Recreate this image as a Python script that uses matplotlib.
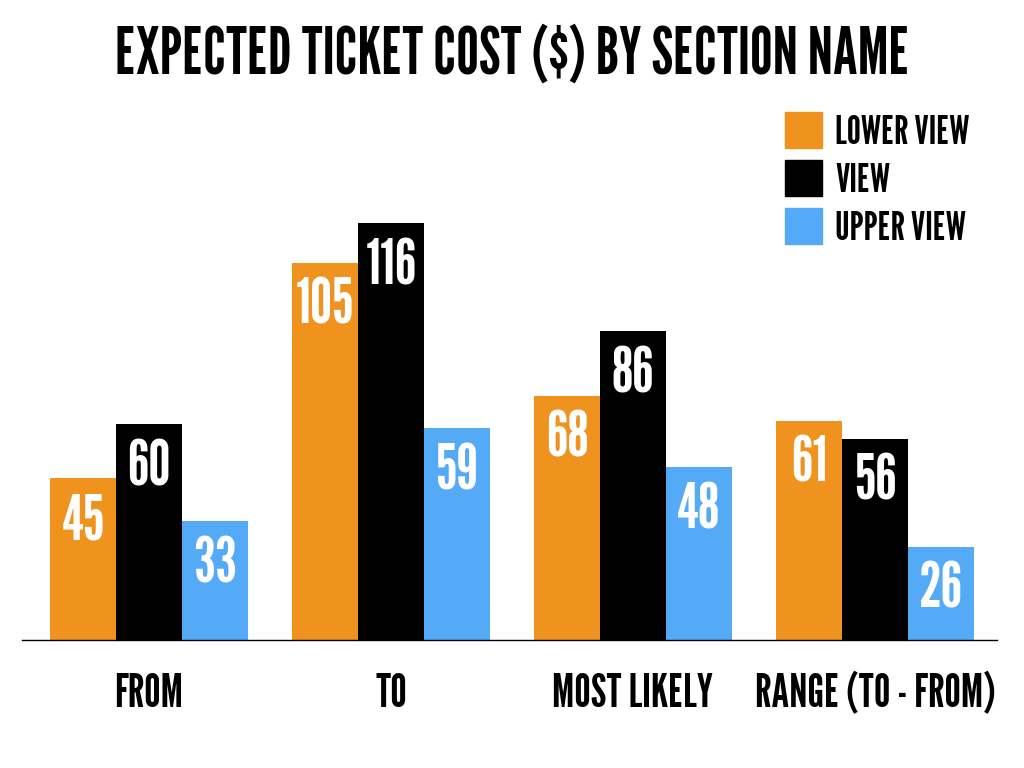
import matplotlib
matplotlib.use("Agg")
import matplotlib.pyplot as plt
from matplotlib.patches import Rectangle
import numpy as np
from matplotlib import font_manager

categories = ["FROM", "TO", "MOST LIKELY", "RANGE (TO - FROM)"]
series_names = ["LOWER VIEW", "VIEW", "UPPER VIEW"]
lower_view = [45, 105, 68, 61]
view = [60, 116, 86, 56]
upper_view = [33, 59, 48, 26]
colors = ["#F0931E", "#000000", "#55AAF7"]

names = {f.name for f in font_manager.fontManager.ttflist}
fam = "DejaVu Sans"
for cand in ["League Gothic", "Oswald", "Bebas Neue", "Anton", "Fjalla One", "Pathway Gothic One"]:
    if cand in names:
        fam = cand
        break
plt.rcParams['font.family'] = [fam, 'DejaVu Sans']

fig = plt.figure(figsize=(10.24, 7.68), dpi=100)
ax = fig.add_axes([22/1024, 128/768, 975/1024, 540/768])

x = np.arange(len(categories))
w = 0.272
data = [lower_view, view, upper_view]
for i, (vals, c) in enumerate(zip(data, colors)):
    pos = x + (i - 1) * w
    ax.bar(pos, vals, width=w, color=c, edgecolor='none')
    for p, v in zip(pos, vals):
        ax.annotate(str(v), (p, v), xytext=(0, -11), textcoords='offset points',
                    ha='center', va='top', color='white', fontsize=45)

ax.set_xlim(-0.525, 3.504)
ax.set_ylim(0, 150.2)
for s in ['top', 'right', 'left']:
    ax.spines[s].set_visible(False)
ax.spines['bottom'].set_linewidth(1)
ax.set_yticks([])
ax.set_xticks(x)
ax.set_xticklabels(categories, fontsize=33)
ax.tick_params(axis='x', length=0, pad=24)

fig.text(0.5, 1 - 56/768, "EXPECTED TICKET COST ($) BY SECTION NAME", ha='center', va='center',
         fontsize=46)

# legend
for i, (name, c) in enumerate(zip(series_names, colors)):
    y0 = 112 + i * 48
    fig.patches.append(Rectangle((785/1024, 1 - (y0 + 36)/768), 37/1024, 36/768,
                                 transform=fig.transFigure, color=c))
    fig.text(835/1024, 1 - (y0 + 21)/768, name, ha='left', va='center', fontsize=28.5)

fig.savefig("out.png", dpi=100)
